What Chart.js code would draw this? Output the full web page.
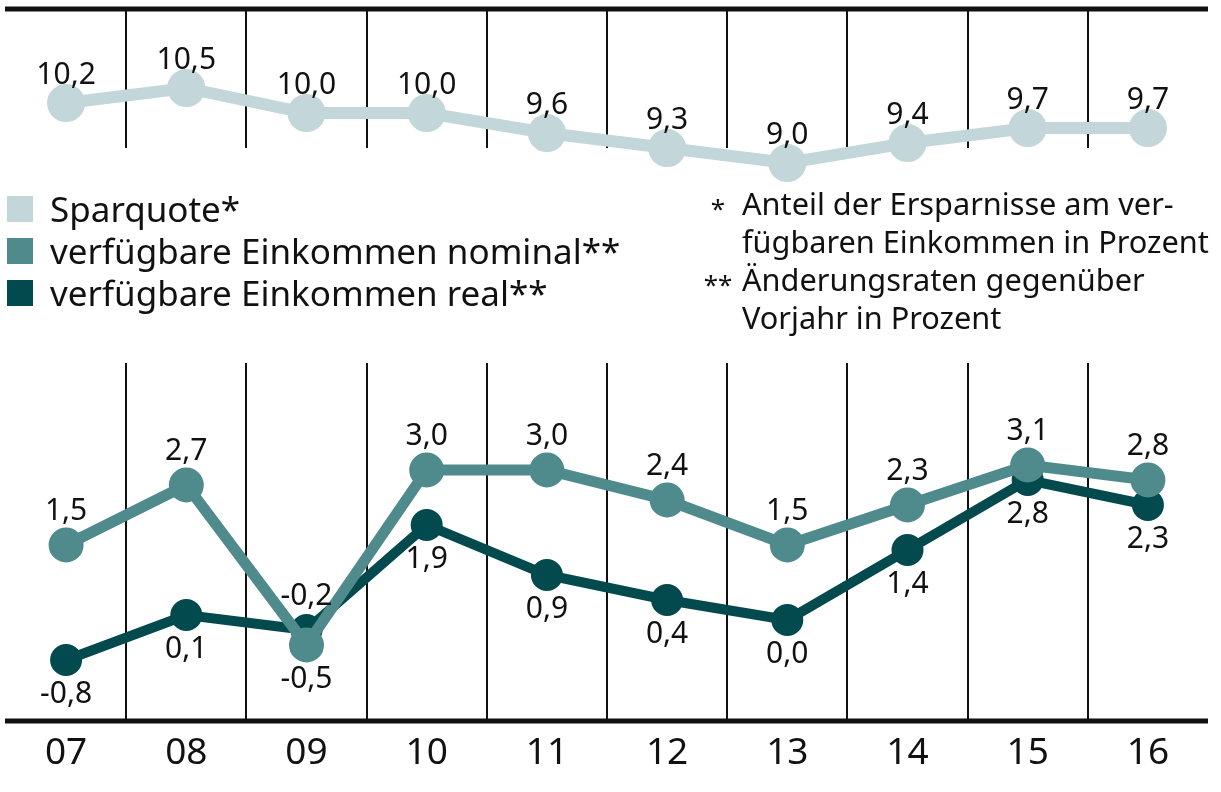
<!DOCTYPE html>
<html lang="de">
<head>
  <meta charset="UTF-8">
  <title>Sparquote und verfügbare Einkommen</title>
  <script src="https://cdn.jsdelivr.net/npm/chart.js"></script>
  <style>
    html, body { margin: 0; padding: 0; background: #fff; }
    body { width: 1221px; height: 792px; position: relative; overflow: hidden; font-family: "Noto Sans", sans-serif; color: #111; }
    #wrap { position: absolute; left: 0; top: 0; width: 1221px; height: 792px; }
    #legend { position: absolute; left: 7px; top: 188px; font-size: 35px; line-height: 42px; }
    #legend .item { display: flex; align-items: center; white-space: nowrap; height: 42px; }
    #legend .sw { width: 26px; height: 26px; margin-right: 17px; flex: none; }
    #notes { position: absolute; left: 702px; top: 184px; font-size: 30.7px; line-height: 38px; }
    #notes .row { position: relative; padding-left: 40px; white-space: nowrap; height: 38px; }
    #notes .mk { position: absolute; left: 0; top: 5px; width: 32px; text-align: center; font-size: 26px; }
  </style>
</head>
<body>
  <div id="wrap"><canvas id="chart"></canvas></div>
  <div id="legend"></div>
  <div id="notes"></div>

  <script>
    // data
    const years = ['07', '08', '09', '10', '11', '12', '13', '14', '15', '16'];
    const sparquote = [10.2, 10.5, 10.0, 10.0, 9.6, 9.3, 9.0, 9.4, 9.7, 9.7];
    const nominal = [1.5, 2.7, -0.5, 3.0, 3.0, 2.4, 1.5, 2.3, 3.1, 2.8];
    const real = [-0.8, 0.1, -0.2, 1.9, 0.9, 0.4, 0.0, 1.4, 2.8, 2.3];

    const seriesNames = ['Sparquote*', 'verfügbare Einkommen nominal**', 'verfügbare Einkommen real**'];
    const seriesColors = ['#c3d6d9', '#4f8a8c', '#034a4e'];
    const notes = [
      ['*', 'Anteil der Ersparnisse am ver-'],
      ['', 'fügbaren Einkommen in Prozent'],
      ['**', 'Änderungsraten gegenüber'],
      ['', 'Vorjahr in Prozent'],
    ];

    const fmt = (v) => v.toFixed(1).replace('.', ',');

    // legend + footnotes as html
    document.getElementById('legend').innerHTML = seriesNames.map((n, i) =>
      `<div class="item"><span class="sw" style="background:${seriesColors[i]}"></span>${n}</div>`).join('');
    document.getElementById('notes').innerHTML = notes.map(([m, t]) =>
      `<div class="row"><span class="mk">${m}</span>${t}</div>`).join('');

    // vertical separators + thick top/bottom rules
    const framePlugin = {
      id: 'frame',
      beforeDatasetsDraw(chart) {
        const { ctx, chartArea: a, scales: { x } } = chart;
        ctx.save();
        ctx.strokeStyle = '#111';
        ctx.lineWidth = 2;
        for (let i = 0; i < years.length - 1; i++) {
          const px = Math.round((x.getPixelForValue(i) + x.getPixelForValue(i + 1)) / 2);
          ctx.beginPath();
          ctx.moveTo(px, a.top);
          ctx.lineTo(px, 148);
          ctx.moveTo(px, 363);
          ctx.lineTo(px, a.bottom + 2);
          ctx.stroke();
        }
        ctx.lineWidth = 5;
        ctx.beginPath();
        ctx.moveTo(a.left - 1, a.top);
        ctx.lineTo(a.right, a.top);
        ctx.moveTo(a.left - 1, a.bottom);
        ctx.lineTo(a.right, a.bottom);
        ctx.stroke();
        ctx.restore();
      }
    };

    // value labels, higher of the two lower series gets its label above
    const valuePlugin = {
      id: 'values',
      afterDatasetsDraw(chart) {
        const { ctx } = chart;
        ctx.save();
        ctx.font = '30px "Noto Sans", sans-serif';
        ctx.fillStyle = '#111';
        ctx.textAlign = 'center';
        ctx.textBaseline = 'middle';
        chart.data.datasets.forEach((ds, di) => {
          const meta = chart.getDatasetMeta(di);
          meta.data.forEach((pt, i) => {
            const v = ds.data[i];
            let above = true;
            if (di === 1) above = nominal[i] >= real[i];
            if (di === 2) above = real[i] > nominal[i];
            const off = di === 0 ? -28 : (above ? -34 : 34);
            ctx.fillText(fmt(v), pt.x, pt.y + off);
          });
        });
        ctx.restore();
      }
    };

    new Chart(document.getElementById('chart'), {
      type: 'line',
      data: {
        labels: years,
        datasets: [
          { label: seriesNames[0], data: sparquote, yAxisID: 'y2', borderColor: seriesColors[0], backgroundColor: seriesColors[0], borderWidth: 12, pointRadius: 13 },
          { label: seriesNames[1], data: nominal, yAxisID: 'y', borderColor: seriesColors[1], backgroundColor: seriesColors[1], borderWidth: 11, pointRadius: 12 },
          { label: seriesNames[2], data: real, yAxisID: 'y', borderColor: seriesColors[2], backgroundColor: seriesColors[2], borderWidth: 10, pointRadius: 11 },
        ],
      },
      options: {
        responsive: true,
        maintainAspectRatio: false,
        animation: false,
        layout: { autoPadding: false, padding: { top: 9, left: 6, right: 13, bottom: 0 } },
        elements: { line: { tension: 0 }, point: { borderWidth: 0, hoverRadius: 13 } },
        plugins: { legend: { display: false }, tooltip: { enabled: false } },
        scales: {
          x: {
            offset: true,
            grid: { display: false, drawTicks: false },
            border: { display: false },
            ticks: { color: '#111', font: { family: '"Noto Sans", sans-serif', size: 37 }, padding: 10 },
            afterFit: (s) => { s.height = 71; },
          },
          y: { display: false, min: -2.02, max: 12.22 },
          y2: { display: false, min: -2.16, max: 12.08 },
        },
      },
      plugins: [framePlugin, valuePlugin],
    });
  </script>
</body>
</html>
